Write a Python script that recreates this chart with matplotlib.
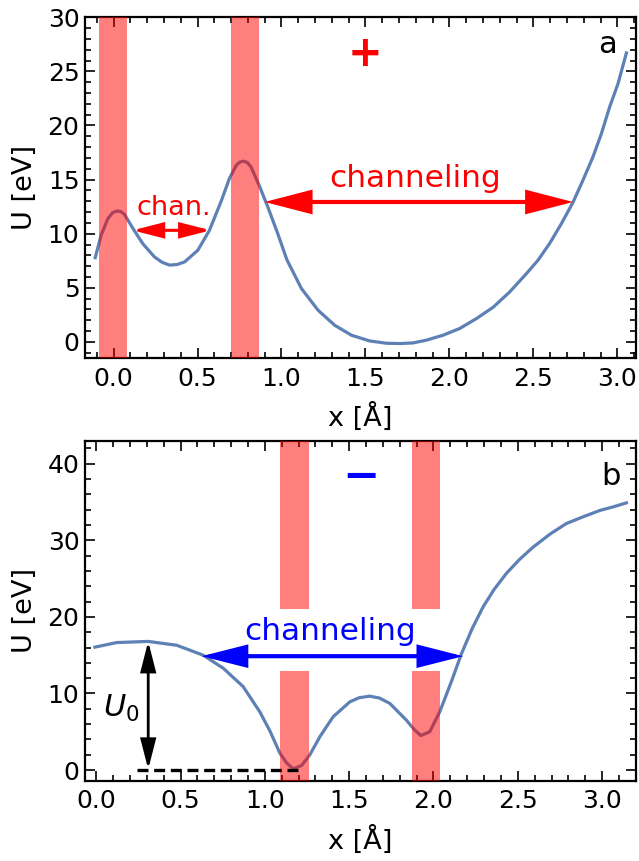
import numpy as np
import matplotlib
matplotlib.use("Agg")
import matplotlib.pyplot as plt
from matplotlib.ticker import MultipleLocator, FormatStrFormatter

# --- panel a: potential for positive particle ---
xa = [-0.109, -0.074, -0.034, -0.005, 0.021, 0.043, 0.065, 0.115, 0.174, 0.244,
      0.290, 0.333, 0.378, 0.423, 0.502, 0.571, 0.641, 0.690, 0.730, 0.750,
      0.770, 0.795, 0.819, 0.869, 0.918, 0.978, 1.032, 1.119, 1.218, 1.317,
      1.417, 1.526, 1.625, 1.704, 1.783, 1.862, 1.962, 2.061, 2.161, 2.260,
      2.359, 2.458, 2.527, 2.597, 2.667, 2.736, 2.795, 2.855, 2.905, 2.954,
      3.004, 3.054]
ua = [7.79, 9.85, 11.39, 11.95, 12.1, 12.05, 11.79, 10.5, 9.08, 7.85,
      7.35, 7.1, 7.15, 7.39, 8.47, 10.31, 13.0, 15.1, 16.3, 16.6,
      16.7, 16.6, 16.16, 14.4, 12.5, 10.0, 7.6, 4.93, 2.93, 1.54,
      0.62, 0.09, -0.12, -0.15, -0.09, 0.16, 0.62, 1.24, 2.16, 3.2,
      4.62, 6.3, 7.54, 9.1, 10.93, 12.9, 14.93, 17.1, 19.24, 21.7,
      23.86, 26.7]
bands_a = [(-0.087, 0.079), (0.702, 0.867)]

# --- panel b: potential for negative particle ---
xb = [-0.008, 0.121, 0.308, 0.477, 0.634, 0.753, 0.871, 0.970, 1.030, 1.089,
      1.130, 1.168, 1.218, 1.267, 1.326, 1.405, 1.504, 1.560, 1.622, 1.680,
      1.741, 1.840, 1.885, 1.925, 1.978, 2.037, 2.107, 2.166, 2.230, 2.294,
      2.360, 2.433, 2.510, 2.590, 2.690, 2.788, 2.890, 2.986, 3.070, 3.144]
ub = [16.05, 16.65, 16.8, 16.3, 15.0, 13.3, 10.9, 7.6, 5.1, 2.2,
      0.9, 0.15, 0.6, 2.0, 4.35, 6.96, 8.91, 9.45, 9.65, 9.4,
      8.7, 6.5, 5.3, 4.5, 5.0, 7.6, 11.6, 15.2, 18.5, 21.3,
      23.6, 25.7, 27.5, 29.1, 30.8, 32.2, 33.1, 33.9, 34.4, 34.9]
bands_b = [(1.089, 1.261), (1.873, 2.041)]
gap_b = (13.0, 21.0)

line_col = "#5E81B5"
band_col = "red"

fig = plt.figure(figsize=(6.39, 8.61), dpi=100)
ax1 = fig.add_axes([0.133, 0.584, 0.862, 0.396])
ax2 = fig.add_axes([0.133, 0.0932, 0.862, 0.3948])


def style(ax, xlim, ylim, ymaj, ymin):
    ax.set_xlim(*xlim)
    ax.set_ylim(*ylim)
    ax.xaxis.set_major_locator(MultipleLocator(0.5))
    ax.xaxis.set_minor_locator(MultipleLocator(0.1))
    ax.yaxis.set_major_locator(MultipleLocator(ymaj))
    ax.yaxis.set_minor_locator(MultipleLocator(ymin))
    ax.xaxis.set_major_formatter(FormatStrFormatter("%.1f"))
    ax.tick_params(which="both", direction="in", top=True, right=True,
                   labelsize=18, width=1.2)
    ax.tick_params(which="major", length=7)
    ax.tick_params(which="minor", length=4)
    ax.tick_params(axis="x", pad=6)
    ax.tick_params(axis="y", pad=4)
    for s in ax.spines.values():
        s.set_linewidth(1.6)
    ax.set_xlabel("x [Å]", fontsize=19.5, labelpad=9)
    ax.set_ylabel("U [eV]", fontsize=19.5, labelpad=7)


def arrow(ax, x0, x1, y0, y1, col, lw, hl, hw, ms=20):
    ax.annotate("", xy=(x1, y1), xytext=(x0, y0),
                arrowprops=dict(arrowstyle=f"<|-|>,head_length={hl},head_width={hw}",
                                color=col, lw=lw, shrinkA=0, shrinkB=0,
                                mutation_scale=ms, joinstyle="miter"),
                zorder=5)


# panel a
style(ax1, (-0.17, 3.11), (-1.5, 30), 5, 1)
ax1.plot(xa, ua, color=line_col, lw=2.3, zorder=2, solid_joinstyle="round")
for x0, x1 in bands_a:
    ax1.axvspan(x0, x1, color=band_col, alpha=0.5, lw=0, zorder=3)
arrow(ax1, 0.113, 0.579, 10.31, 10.31, "red", 2.2, 0.9, 0.23)
ax1.text(0.358, 11.7, "chan.", color="red", fontsize=19.5, ha="center", va="baseline", zorder=6)
arrow(ax1, 0.900, 2.736, 12.93, 12.93, "red", 3.0, 1.35, 0.35)
ax1.text(1.798, 14.3, "channeling", color="red", fontsize=22.5, ha="center", va="baseline", zorder=6)
ax1.text(1.50, 26.6, "+", color="red", fontsize=30, fontweight="bold", ha="center", va="center", zorder=6)
ax1.text(2.94, 26.65, "a", color="black", fontsize=22, ha="center", va="baseline", zorder=6)

# panel b
ylo, yhi = -1.4, 43
style(ax2, (-0.067, 3.2), (ylo, yhi), 10, 2)
ax2.plot(xb, ub, color=line_col, lw=2.3, zorder=2, solid_joinstyle="round")
for x0, x1 in bands_b:
    ax2.fill_between([x0, x1], ylo, gap_b[0], color=band_col, alpha=0.5, lw=0, zorder=3)
    ax2.fill_between([x0, x1], gap_b[1], yhi, color=band_col, alpha=0.5, lw=0, zorder=3)
arrow(ax2, 0.625, 2.176, 14.87, 14.87, "blue", 3.0, 1.3, 0.33)
ax2.text(1.388, 16.96, "channeling", color="blue", fontsize=22.5, ha="center", va="baseline", zorder=6)
ax2.text(1.57, 38.4, "\u2212", color="blue", fontsize=32, fontweight="bold", ha="center", va="center", zorder=6)
ax2.text(3.05, 37.2, "b", color="black", fontsize=22, ha="center", va="baseline", zorder=6)
ax2.plot([0.239, 1.207], [0, 0], color="black", lw=2.4, dashes=(3.3, 1.7), zorder=4)
arrow(ax2, 0.308, 0.308, 16.8, 0.09, "black", 2.0, 0.9, 0.23)
ax2.text(0.145, 6.95, "$U_0$", color="black", fontsize=22, ha="center", va="baseline", zorder=6)

fig.savefig("out.png", dpi=100)
